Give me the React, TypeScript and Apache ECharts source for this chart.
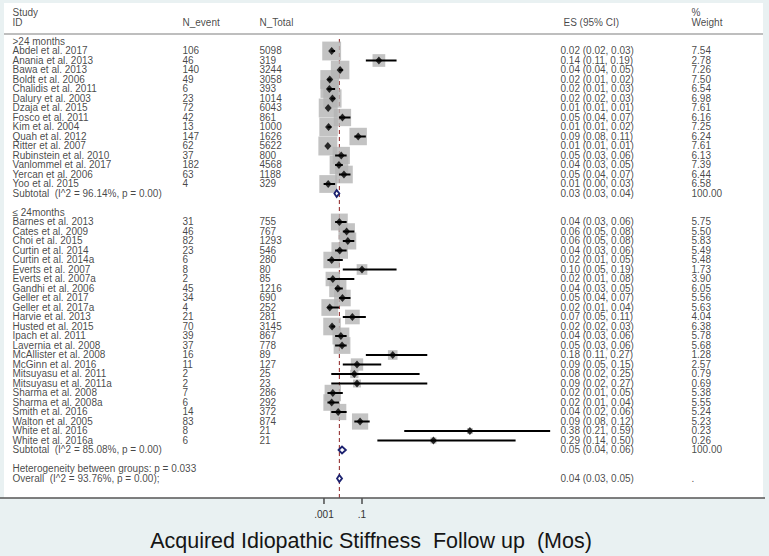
import React, { useEffect, useRef } from "react";
import * as echarts from "echarts";

// ---------- data ----------
const studies1 = ["Abdel et al. 2017", "Anania et al. 2013", "Bawa et al. 2013", "Boldt et al. 2006", "Chalidis et al. 2011", "Dalury et al. 2003", "Dzaja et al. 2015", "Fosco et al. 2011", "Kim et al. 2004", "Quah et al. 2012", "Ritter et al. 2007", "Rubinstein et al. 2010", "Vanlommel et al. 2017", "Yercan et al. 2006", "Yoo et al. 2015"];
const events1 = [106, 46, 140, 49, 6, 23, 72, 42, 13, 147, 62, 37, 182, 63, 4];
const totals1 = [5098, 319, 3244, 3058, 393, 1014, 6043, 861, 1000, 1626, 5622, 800, 4568, 1188, 329];
const es1 = [0.021, 0.144, 0.043, 0.016, 0.015, 0.023, 0.012, 0.049, 0.013, 0.090, 0.011, 0.046, 0.040, 0.053, 0.012];
const lo1 = [0.02, 0.11, 0.04, 0.01, 0.01, 0.02, 0.01, 0.04, 0.01, 0.08, 0.01, 0.03, 0.03, 0.04, 0.00];
const hi1 = [0.03, 0.19, 0.05, 0.02, 0.03, 0.03, 0.01, 0.07, 0.02, 0.11, 0.01, 0.06, 0.05, 0.07, 0.03];
const weight1 = [7.54, 2.78, 7.26, 7.50, 6.54, 6.98, 7.61, 6.16, 7.25, 6.24, 7.61, 6.13, 7.39, 6.44, 6.58];
const ciText1 = ["0.02 (0.02, 0.03)", "0.14 (0.11, 0.19)", "0.04 (0.04, 0.05)", "0.02 (0.01, 0.02)", "0.02 (0.01, 0.03)", "0.02 (0.02, 0.03)", "0.01 (0.01, 0.01)", "0.05 (0.04, 0.07)", "0.01 (0.01, 0.02)", "0.09 (0.08, 0.11)", "0.01 (0.01, 0.01)", "0.05 (0.03, 0.06)", "0.04 (0.03, 0.05)", "0.05 (0.04, 0.07)", "0.01 (0.00, 0.03)"];

const studies2 = ["Barnes et al. 2013", "Cates et al. 2009", "Choi et al. 2015", "Curtin et al. 2014", "Curtin et al. 2014a", "Everts et al. 2007", "Everts et al. 2007a", "Gandhi et al. 2006", "Geller et al. 2017", "Geller et al. 2017a", "Harvie et al. 2013", "Husted et al. 2015", "Ipach et al. 2011", "Lavernia et al. 2008", "McAllister et al. 2008", "McGinn et al. 2016", "Mitsuyasu et al. 2011", "Mitsuyasu et al. 2011a", "Sharma et al. 2008", "Sharma et al. 2008a", "Smith et al. 2016", "Walton et al. 2005", "White et al. 2016", "White et al. 2016a"];
const events2 = [31, 46, 82, 23, 6, 8, 2, 45, 34, 4, 21, 70, 39, 37, 16, 11, 2, 2, 7, 6, 14, 83, 8, 6];
const totals2 = [755, 767, 1293, 546, 280, 80, 85, 1216, 690, 252, 281, 3145, 867, 778, 89, 127, 25, 23, 286, 292, 372, 874, 21, 21];
const es2 = [0.041, 0.060, 0.063, 0.042, 0.021, 0.100, 0.024, 0.037, 0.049, 0.016, 0.075, 0.022, 0.045, 0.048, 0.180, 0.087, 0.080, 0.087, 0.024, 0.021, 0.038, 0.095, 0.381, 0.286];
const lo2 = [0.03, 0.05, 0.05, 0.03, 0.01, 0.05, 0.01, 0.03, 0.04, 0.01, 0.05, 0.02, 0.03, 0.03, 0.11, 0.05, 0.02, 0.02, 0.01, 0.01, 0.02, 0.08, 0.21, 0.14];
const hi2 = [0.06, 0.08, 0.08, 0.06, 0.05, 0.19, 0.08, 0.05, 0.07, 0.04, 0.11, 0.03, 0.06, 0.06, 0.27, 0.15, 0.25, 0.27, 0.05, 0.04, 0.06, 0.12, 0.59, 0.50];
const weight2 = [5.75, 5.50, 5.83, 5.49, 5.48, 1.73, 3.90, 6.05, 5.56, 5.63, 4.04, 6.38, 5.78, 5.68, 1.28, 2.57, 0.79, 0.69, 5.38, 5.55, 5.24, 5.23, 0.23, 0.26];
const ciText2 = ["0.04 (0.03, 0.06)", "0.06 (0.05, 0.08)", "0.06 (0.05, 0.08)", "0.04 (0.03, 0.06)", "0.02 (0.01, 0.05)", "0.10 (0.05, 0.19)", "0.02 (0.01, 0.08)", "0.04 (0.03, 0.05)", "0.05 (0.04, 0.07)", "0.02 (0.01, 0.04)", "0.07 (0.05, 0.11)", "0.02 (0.02, 0.03)", "0.04 (0.03, 0.06)", "0.05 (0.03, 0.06)", "0.18 (0.11, 0.27)", "0.09 (0.05, 0.15)", "0.08 (0.02, 0.25)", "0.09 (0.02, 0.27)", "0.02 (0.01, 0.05)", "0.02 (0.01, 0.04)", "0.04 (0.02, 0.06)", "0.09 (0.08, 0.12)", "0.38 (0.21, 0.59)", "0.29 (0.14, 0.50)"];

// pooled estimates: subtotal >24, subtotal <=24, overall
const pooledEs = [0.034, 0.048, 0.041];
const pooledLo = [0.028, 0.039, 0.035];
const pooledHi = [0.041, 0.058, 0.048];
const pooledLabel = ["Subtotal  (I^2 = 96.14%, p = 0.00)", "Subtotal  (I^2 = 85.08%, p = 0.00)", "Overall  (I^2 = 93.76%, p = 0.00);"];
const pooledCiText = ["0.03 (0.03, 0.04)", "0.05 (0.04, 0.06)", "0.04 (0.03, 0.05)"];
const pooledWeight = ["100.00", "100.00", "."];

const groupLabels = [">24 months", "\u2264 24months"];
const heterogeneityText = "Heterogeneity between groups: p = 0.033";
const headerTop = ["Study", "", "", "", "%"];
const headerBottom = ["ID", "N_event", "N_Total", "ES (95% CI)", "Weight"];
const tickValues = [0.001, 0.1];
const tickLabels = [".001", ".1"];
const xTitle = "Acquired Idiopathic Stiffness  Follow up  (Mos)";

// ---------- layout ----------
const W = 769;
const H = 556;
const GRID = { left: 4, top: 3, right: 6, bottom: 58 };
const ROW0_Y = 41.5;
const ROW_H = 9.5;
const X0_PX = 323.6; // pixel of ES = 0
const PX_PER_UNIT = 384;
const colX = [9, 179, 256, 557, 688]; // offsets inside grid
const headerColX = [9, 179, 256, 560, 688];
const FONT = "'Liberation Sans', Arial, sans-serif";
const TEXT_COLOR = "#151515";

export default function App() {
  const ref = useRef<HTMLDivElement>(null);

  useEffect(() => {
    if (!ref.current) return;
    const chart = echarts.init(ref.current, undefined, { renderer: "svg" });

    const gridW = W - GRID.left - GRID.right;
    const gridH = H - GRID.top - GRID.bottom;
    const xMin = (GRID.left - X0_PX) / PX_PER_UNIT;
    const xMax = (W - GRID.right - X0_PX) / PX_PER_UNIT;
    const yMin = (GRID.top - ROW0_Y) / ROW_H;
    const yMax = (GRID.top + gridH - ROW0_Y) / ROW_H;

    // row assignment
    const g1Header = 0;
    const rows1 = studies1.map((_, i) => 1 + i);
    const sub1Row = 1 + studies1.length;
    const g2Header = sub1Row + 2;
    const rows2 = studies2.map((_, i) => g2Header + 1 + i);
    const sub2Row = g2Header + 1 + studies2.length;
    const hetRow = sub2Row + 2;
    const overallRow = hetRow + 1;
    const pooledRows = [sub1Row, sub2Row, overallRow];

    const allEs = [...es1, ...es2];
    const allLo = [...lo1, ...lo2];
    const allHi = [...hi1, ...hi2];
    const allW = [...weight1, ...weight2];
    const allRows = [...rows1, ...rows2];

    const boxData = allEs.map((e, i) => [e, allRows[i], allW[i]]);
    const ciData = allEs.map((_, i) => [allLo[i], allHi[i], allRows[i]]);
    const ptData = allEs.map((e, i) => [e, allRows[i]]);
    const pooledData = pooledEs.map((e, i) => [pooledLo[i], pooledHi[i], pooledRows[i], e]);

    // table text
    const table: any[] = [];
    const addText = (x: number, row: number, text: string) => {
      if (text === "") return;
      table.push({ value: [x, row], name: text });
    };
    headerTop.forEach((t, c) => addText(headerColX[c], -3, t));
    headerBottom.forEach((t, c) => addText(headerColX[c], -2, t));
    addText(colX[0], g1Header, groupLabels[0]);
    studies1.forEach((s, i) => {
      addText(colX[0], rows1[i], s);
      addText(colX[1], rows1[i], String(events1[i]));
      addText(colX[2], rows1[i], String(totals1[i]));
      addText(colX[3], rows1[i], ciText1[i]);
      addText(colX[4], rows1[i], weight1[i].toFixed(2));
    });
    addText(colX[0], g2Header, groupLabels[1]);
    studies2.forEach((s, i) => {
      addText(colX[0], rows2[i], s);
      addText(colX[1], rows2[i], String(events2[i]));
      addText(colX[2], rows2[i], String(totals2[i]));
      addText(colX[3], rows2[i], ciText2[i]);
      addText(colX[4], rows2[i], weight2[i].toFixed(2));
    });
    pooledRows.forEach((r, i) => {
      addText(colX[0], r, pooledLabel[i]);
      addText(colX[3], r, pooledCiText[i]);
      addText(colX[4], r, pooledWeight[i]);
    });
    addText(colX[0], hetRow, heterogeneityText);

    const option: any = {
      animation: false,
      backgroundColor: "#e9f1f2",
      grid: {
        left: GRID.left, top: GRID.top, right: GRID.right, bottom: GRID.bottom,
        show: true, backgroundColor: "#ffffff", borderWidth: 0,
      },
      xAxis: [
        {
          type: "value", min: xMin, max: xMax, position: "bottom",
          splitLine: { show: false },
          axisLine: { show: false },
          axisTick: { show: false },
          axisLabel: {
            show: true, customValues: tickValues, margin: 11,
            fontSize: 10, color: "#333", fontFamily: FONT,
            formatter: (v: number) => {
              const idx = tickValues.findIndex((t) => Math.abs(t - v) < 1e-9);
              return idx >= 0 ? tickLabels[idx] : "";
            },
          },
        },
        { type: "value", min: 0, max: gridW, show: false, position: "top" },
      ],
      yAxis: { type: "value", min: yMin, max: yMax, inverse: true, show: false },
      series: [
        {
          // reference line at the overall estimate
          type: "custom", xAxisIndex: 0, z: 1, silent: true, clip: false,
          encode: { x: 0, y: [1, 2] },
          renderItem: (_p: any, api: any) => {
            const a = api.coord([api.value(0), api.value(1)]);
            const b = api.coord([api.value(0), api.value(2)]);
            return {
              type: "line",
              shape: { x1: a[0], y1: a[1], x2: b[0], y2: b[1] },
              style: { stroke: "#8b1e1e", lineWidth: 1, lineDash: [4, 3] },
            };
          },
          data: [[pooledEs[2], -0.26, yMax]],
        },
        {
          // axis ticks
          type: "custom", xAxisIndex: 0, z: 1, silent: true, clip: false,
          encode: { x: 0, y: 1 },
          renderItem: (_p: any, api: any) => {
            const a = api.coord([api.value(0), api.value(1)]);
            return {
              type: "line",
              shape: { x1: a[0], y1: a[1], x2: a[0], y2: a[1] + 6 },
              style: { stroke: "#333", lineWidth: 1.3 },
            };
          },
          data: tickValues.map((v) => [v, yMax]),
        },
        {
          type: "scatter", xAxisIndex: 0, z: 2, silent: true, symbol: "rect",
          symbolSize: (v: number[]) => 3.2 + 5.7 * Math.sqrt(v[2]),
          itemStyle: { color: "#b4b4b4" },
          data: boxData,
        },
        {
          type: "custom", xAxisIndex: 0, z: 3, silent: true,
          encode: { x: [0, 1], y: 2 },
          renderItem: (_p: any, api: any) => {
            const a = api.coord([api.value(0), api.value(2)]);
            const b = api.coord([api.value(1), api.value(2)]);
            return {
              type: "line",
              shape: { x1: a[0], y1: a[1], x2: b[0], y2: b[1] },
              style: { stroke: "#000", lineWidth: 2 },
            };
          },
          data: ciData,
        },
        {
          type: "scatter", xAxisIndex: 0, z: 4, silent: true, symbol: "diamond",
          symbolSize: [7, 8], itemStyle: { color: "#000" },
          data: ptData,
        },
        {
          type: "custom", xAxisIndex: 0, z: 5, silent: true,
          encode: { x: [0, 1], y: 2 },
          renderItem: (_p: any, api: any) => {
            const l = api.coord([api.value(0), api.value(2)]);
            const h = api.coord([api.value(1), api.value(2)]);
            const m = api.coord([api.value(3), api.value(2)]);
            const d = 3.4;
            return {
              type: "polygon",
              shape: { points: [[l[0], l[1]], [m[0], m[1] - d], [h[0], h[1]], [m[0], m[1] + d]] },
              style: { fill: "#fff", stroke: "#1c2270", lineWidth: 1.8 },
            };
          },
          data: pooledData,
        },
        {
          type: "scatter", xAxisIndex: 1, z: 6, silent: true, symbolSize: 1,
          itemStyle: { color: "transparent" },
          label: {
            show: true, position: [0, 0], align: "left", verticalAlign: "middle",
            formatter: "{b}", fontSize: 10, fontFamily: FONT, color: TEXT_COLOR,
          },
          data: table,
        },
      ],
      graphic: [
        {
          type: "line", z: 100, silent: true,
          shape: { x1: GRID.left, y1: 34, x2: W - GRID.right, y2: 34 },
          style: { stroke: "#a8a8a8", lineWidth: 1.5 },
        },
        {
          type: "line", z: 100, silent: true,
          shape: { x1: 0, y1: H - GRID.bottom, x2: W - 4, y2: H - GRID.bottom },
          style: { stroke: "#555", lineWidth: 1.5 },
        },
        {
          type: "text", z: 100, silent: true, x: 371, y: 541,
          style: {
            text: xTitle, fill: TEXT_COLOR, font: `21.5px ${FONT}`,
            textAlign: "center", textVerticalAlign: "middle",
          },
        },
      ],
    };
    chart.setOption(option);
    return () => chart.dispose();
  }, []);

  return <div ref={ref} style={{ position: "absolute", left: 0, top: 0, width: W, height: H }} />;
}
